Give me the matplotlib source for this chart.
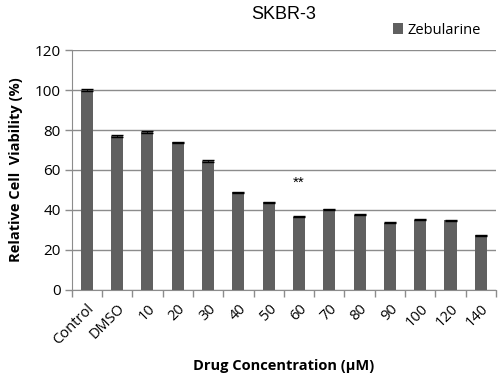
import matplotlib
matplotlib.use("Agg")
import matplotlib.pyplot as plt
import numpy as np

categories = ["Control", "DMSO", "10", "20", "30", "40", "50", "60", "70", "80", "90", "100", "120", "140"]
values = [100, 77, 79, 73.8, 64.5, 48.8, 43.8, 36.7, 40.3, 37.6, 33.6, 35.2, 34.8, 27.4]
errors = [0.3, 0.3, 0.3, 0.3, 0.3, 0.3, 0.3, 0.3, 0.3, 0.3, 0.3, 0.3, 0.3, 0.3]
yticks = [0, 20, 40, 60, 80, 100, 120]

fig = plt.figure(figsize=(5.01, 3.82), dpi=100)
ax = fig.add_axes([0.143, 0.241, 0.847, 0.628])

x = np.arange(len(categories))
ax.bar(x, values, width=0.4, color="#606060", zorder=3, label="Zebularine",
       yerr=errors, error_kw=dict(ecolor="black", capsize=4.5, elinewidth=0.6, capthick=1.0, zorder=4))

ax.set_xlim(-0.5, len(categories) - 0.5)
ax.set_ylim(0, 120)
ax.set_yticks(yticks)
ax.yaxis.grid(True, color="#8c8c8c", linewidth=1, zorder=0)
ax.set_axisbelow(True)

ax.set_xticks(x)
ax.set_xticklabels(categories, rotation=45, ha="right", rotation_mode="anchor",
                   fontsize=10.5, family="Open Sans")
ax.set_xticks(np.arange(-0.5, len(categories) + 0.5, 1), minor=True)
ax.tick_params(axis="x", which="major", length=0, pad=8)
ax.tick_params(axis="x", which="minor", length=5, color="#8c8c8c", width=1)
ax.tick_params(axis="y", length=5, color="#8c8c8c", width=1, labelsize=11, pad=3)
for lbl in ax.get_yticklabels():
    lbl.set_family("Open Sans")

for s in ["top", "right"]:
    ax.spines[s].set_visible(False)
ax.spines["left"].set_color("#8c8c8c")
ax.spines["bottom"].set_color("#8c8c8c")

ax.text(7, 50, "**", ha="center", va="bottom", fontsize=11, family="Liberation Sans")

ax.set_title("SKBR-3", fontsize=13, family="Liberation Sans", pad=22)
ax.set_ylabel("Relative Cell  Viability (%)", fontsize=10.5, fontweight="bold", family="Open Sans", labelpad=8)
ax.set_xlabel("Drug Concentration (\u00b5M)", fontsize=10.5, fontweight="bold", family="Open Sans", labelpad=8)

handles, labels = ax.get_legend_handles_labels()
leg = fig.legend(handles, labels, loc="center left", bbox_to_anchor=(0.77, 0.921), frameon=False,
                 handlelength=0.7, handleheight=0.7, handletextpad=0.3, borderpad=0.0,
                 prop={"family": "Open Sans", "size": 10.5})

fig.savefig("out.png", dpi=100)
